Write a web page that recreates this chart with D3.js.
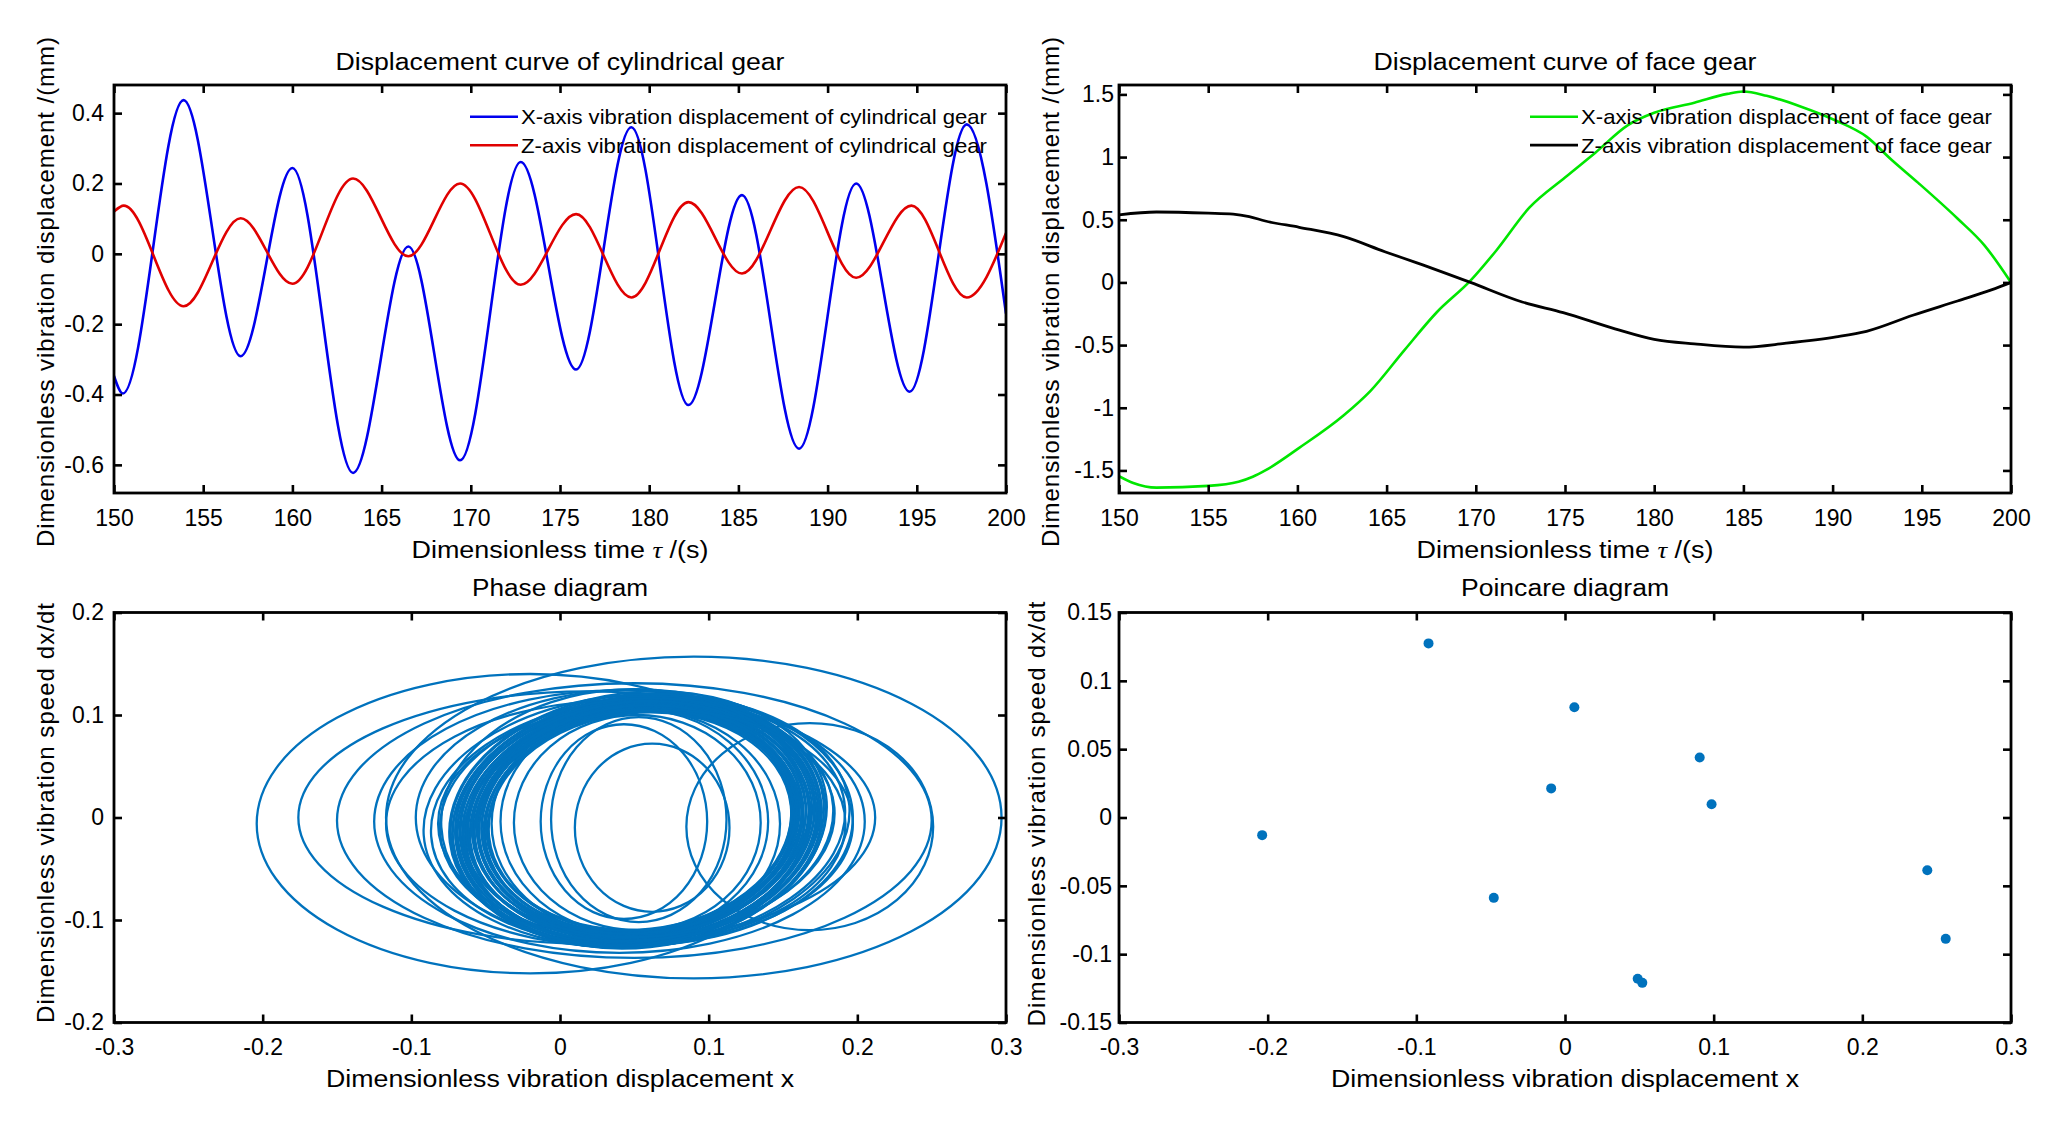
<!DOCTYPE html>
<html>
<head>
<meta charset="utf-8">
<script src="https://cdn.jsdelivr.net/npm/d3@7"></script>
<style>
  body { margin: 0; background: #fff; }
  text { font-family: "Liberation Sans", Arial, sans-serif; fill: #000; }
</style>
</head>
<body>
<svg id="fig" width="2068" height="1123"></svg>
<script>
// ---- data ----
// cylindrical gear, X axis (extrema)
const cylXTime = [150, 150.5, 153.9, 157.1, 160.0, 163.4, 166.5, 169.4, 172.8, 175.9, 179.0, 182.2, 185.2, 188.4, 191.6, 194.6, 197.8, 200];
const cylX = [-0.347, -0.397, 0.437, -0.291, 0.244, -0.623, 0.021, -0.587, 0.261, -0.329, 0.36, -0.43, 0.167, -0.554, 0.2, -0.392, 0.368, -0.17];
// cylindrical gear, Z axis
const cylZTime = [150, 150.55, 153.9, 157.1, 160.0, 163.4, 166.5, 169.4, 172.8, 175.9, 179.0, 182.2, 185.2, 188.4, 191.6, 194.7, 197.8, 200];
const cylZ = [0.12, 0.137, -0.149, 0.101, -0.085, 0.214, -0.007, 0.2, -0.088, 0.113, -0.124, 0.147, -0.056, 0.19, -0.068, 0.137, -0.124, 0.059];

// face gear, X axis
const faceXTime = [150, 150.8, 152.1, 155.0, 156.7, 157.5, 158.2, 160.1, 162.6, 164.1, 166.0, 167.8, 169.7, 171.15, 173.0, 175.0, 176.7, 178.55, 180.0, 182.25, 184.1, 185.0, 186.3, 188.2, 190.2, 191.9, 193.3, 194.8, 197.0, 198.5, 200];
const faceX = [-1.546, -1.60, -1.637, -1.623, -1.59, -1.55, -1.50, -1.32, -1.06, -0.865, -0.54, -0.24, 0.014, 0.255, 0.596, 0.837, 1.035, 1.257, 1.353, 1.433, 1.504, 1.523, 1.489, 1.404, 1.29, 1.163, 0.979, 0.794, 0.51, 0.298, 0.0];
// face gear, Z axis
const faceZTime = [150, 152.1, 155.0, 156.4, 157.3, 158.2, 160.1, 162.6, 164.9, 166.7, 169.7, 172.6, 174.9, 177.8, 180.0, 182.25, 185.0, 187.4, 190.2, 191.9, 194.5, 197.0, 198.9, 200];
const faceZ = [0.539, 0.562, 0.553, 0.545, 0.525, 0.49, 0.44, 0.365, 0.245, 0.156, 0.0, -0.156, -0.241, -0.37, -0.454, -0.49, -0.516, -0.485, -0.435, -0.39, -0.262, -0.148, -0.06, 0.0];

// phase diagram: loops as ellipses (centre x, centre v, half width, half height, tilt in degrees)
const phaseCx = [-0.020, 0.090, 0.050, 0.018, 0.168, 0.040, 0.040, 0.050, 0.055,
                 0.043, 0.053, 0.052, 0.050, 0.051, 0.062,
                 0.0525, 0.0525, 0.0525, 0.052, 0.052, 0.052, 0.052, 0.0515, 0.0515, 0.052, 0.0515, 0.052, 0.052, 0.0525, 0.053, 0.0535,
                 0.0525, 0.0520, 0.0520, 0.0518, 0.0520, 0.0515, 0.0520, 0.0518, 0.0522, 0.0525, 0.0525, 0.0528, 0.0530, 0.0532, 0.0535, 0.0538,
                 0.0525, 0.0515, 0.0515, 0.044, 0.060];
const phaseCy = [-0.006, 0.000, -0.003, 0.000, -0.009, -0.004, -0.006, 0.000, -0.006,
                 -0.004, -0.002, -0.005, -0.004, -0.006, -0.010,
                 -0.002, -0.004, -0.003, -0.005, -0.002, -0.004, -0.006, -0.003, -0.005, -0.002, -0.004, -0.003, -0.005, -0.002, -0.004, -0.003,
                 -0.003, -0.005, -0.002, -0.004, -0.003, -0.005, -0.002, -0.004, -0.003, -0.005, -0.002, -0.004, -0.003, -0.005, -0.002, -0.004,
                 -0.004, -0.002, -0.003, 0.000, -0.006];
const phaseRx = [0.184, 0.207, 0.200, 0.194, 0.083, 0.165, 0.157, 0.147, 0.137,
                 0.056, 0.059, 0.083, 0.090, 0.097, 0.052,
                 0.1275, 0.1255, 0.1235, 0.122, 0.120, 0.118, 0.116, 0.1145, 0.1125, 0.111, 0.1095, 0.108, 0.107, 0.1055, 0.104, 0.1025,
                 0.1265, 0.1245, 0.1228, 0.1210, 0.1192, 0.1175, 0.1155, 0.1138, 0.1118, 0.1102, 0.1088, 0.1075, 0.1062, 0.1048, 0.1035, 0.1020,
                 0.1395, 0.1325, 0.1435, 0.124, 0.125];
const phaseRy = [0.146, 0.157, 0.134, 0.123, 0.101, 0.128, 0.120, 0.125, 0.115,
                 0.095, 0.100, 0.105, 0.110, 0.112, 0.082,
                 0.124, 0.122, 0.121, 0.119, 0.118, 0.117, 0.116, 0.115, 0.114, 0.113, 0.112, 0.111, 0.110, 0.109, 0.108, 0.107,
                 0.123, 0.122, 0.120, 0.119, 0.118, 0.116, 0.115, 0.114, 0.113, 0.112, 0.111, 0.110, 0.109, 0.108, 0.107, 0.106,
                 0.120, 0.118, 0.123, 0.125, 0.110];
const phaseTilt = [0, 0, 0, 0, 0, 0, 0, 0, 0,
                   0, 0, 0, 0, 0, 0,
                   -7, -7, -7, -7, -7, -7, -7, -7, -7, -7, -7, -7, -7, -7, -7, -7,
                   -6, -6, -6, -6, -6, -6, -6, -6, -6, -6, -6, -6, -6, -6, -6, -6,
                   -4, -4, -4, -3, -5];

// Poincare section points
const poincareX = [-0.0918, 0.0063, 0.0906, -0.0093, 0.0986, -0.2037, 0.2437, -0.0479, 0.2561, 0.0489, 0.052];
const poincareY = [0.1274, 0.0807, 0.0439, 0.0213, 0.0097, -0.0129, -0.0386, -0.0588, -0.0888, -0.118, -0.121];

// ticks
const timeTicks = d3.range(150, 201, 5);
const cylTicks = [-0.6, -0.4, -0.2, 0, 0.2, 0.4];
const faceTicks = [-1.5, -1, -0.5, 0, 0.5, 1, 1.5];
const dispTicks = [-0.3, -0.2, -0.1, 0, 0.1, 0.2, 0.3];
const phaseTicks = [-0.2, -0.1, 0, 0.1, 0.2];
const poincareTicks = [-0.15, -0.1, -0.05, 0, 0.05, 0.1, 0.15];

// ---- drawing ----
const svg = d3.select('#fig');
const FONT = '"Liberation Sans", Arial, sans-serif';
const fmt = d => String(+d.toFixed(2));
let clipId = 0;

function panel(cfg) {
  const x = d3.scaleLinear().domain(cfg.xDomain).range([cfg.x0, cfg.x1]);
  const y = d3.scaleLinear().domain(cfg.yDomain).range([cfg.y1, cfg.y0]);
  const id = 'clip' + (clipId++);
  svg.append('clipPath').attr('id', id).append('rect')
    .attr('x', cfg.x0).attr('y', cfg.y0)
    .attr('width', cfg.x1 - cfg.x0).attr('height', cfg.y1 - cfg.y0);
  const plot = svg.append('g').attr('clip-path', `url(#${id})`);
  return { x, y, plot, cfg };
}

function axes(p) {
  const c = p.cfg;
  const g = svg.append('g');
  const style = sel => {
    sel.select('.domain').remove();
    sel.attr('font-family', FONT).attr('font-size', 23);
    sel.selectAll('.tick line').attr('stroke', '#000').attr('stroke-width', 2.6);
    sel.selectAll('.tick text').attr('fill', '#000');
  };
  g.append('g').attr('transform', `translate(0,${c.y1})`)
    .call(d3.axisBottom(p.x).tickValues(c.xTicks).tickSize(-8).tickPadding(c.padB).tickFormat(fmt)).call(style);
  g.append('g').attr('transform', `translate(0,${c.y0})`)
    .call(d3.axisTop(p.x).tickValues(c.xTicks).tickSize(-8).tickFormat('')).call(style);
  g.append('g').attr('transform', `translate(${c.x0},0)`)
    .call(d3.axisLeft(p.y).tickValues(c.yTicks).tickSize(-8).tickPadding(c.padL).tickFormat(fmt)).call(style);
  g.append('g').attr('transform', `translate(${c.x1},0)`)
    .call(d3.axisRight(p.y).tickValues(c.yTicks).tickSize(-8).tickFormat('')).call(style);
  g.append('rect')
    .attr('x', c.x0).attr('y', c.y0)
    .attr('width', c.x1 - c.x0).attr('height', c.y1 - c.y0)
    .attr('fill', 'none').attr('stroke', '#000').attr('stroke-width', 2.8);

  svg.append('text').attr('x', (c.x0 + c.x1) / 2).attr('y', c.titleY)
    .attr('text-anchor', 'middle').attr('font-size', 23)
    .attr('textLength', c.titleLen).attr('lengthAdjust', 'spacingAndGlyphs')
    .text(c.title);

  const xl = svg.append('text').attr('x', (c.x0 + c.x1) / 2).attr('y', c.xLabelY)
    .attr('text-anchor', 'middle').attr('font-size', 23)
    .attr('textLength', c.xLabelLen).attr('lengthAdjust', 'spacingAndGlyphs');
  if (c.tau) {
    xl.append('tspan').text('Dimensionless time ');
    xl.append('tspan').attr('font-family', '"Liberation Serif", serif').attr('font-style', 'italic').text('τ');
    xl.append('tspan').text(' /(s)');
  } else {
    xl.text(c.xLabel);
  }

  svg.append('text')
    .attr('transform', `translate(${c.yLabelX},${c.yLabelMid}) rotate(-90)`)
    .attr('text-anchor', 'middle').attr('font-size', 24)
    .attr('textLength', c.yLabelLen).attr('lengthAdjust', 'spacing')
    .text(c.yLabel);
}

function legend(entries, lx, ly, textLen) {
  entries.forEach((e, i) => {
    const yy = ly + i * 28.5;
    svg.append('line').attr('x1', lx).attr('x2', lx + 48).attr('y1', yy).attr('y2', yy)
      .attr('stroke', e.color).attr('stroke-width', e.width);
    svg.append('text').attr('x', lx + 51).attr('y', yy + 7.5).attr('font-size', 21)
      .attr('textLength', textLen[i]).attr('lengthAdjust', 'spacingAndGlyphs')
      .text(e.label);
  });
}

function drawSeries(p, xs, ys, color, width) {
  const line = d3.line().x(d => p.x(d[0])).y(d => p.y(d[1])).curve(d3.curveMonotoneX);
  p.plot.append('path').datum(xs.map((t, i) => [t, ys[i]]))
    .attr('d', line).attr('fill', 'none').attr('stroke', color).attr('stroke-width', width);
}

// top left: cylindrical gear
const tl = panel({ x0: 114, x1: 1006, y0: 85, y1: 493, xDomain: [150, 200], yDomain: [-0.68, 0.48] });
drawSeries(tl, cylXTime, cylX, '#0000ee', 2.6);
drawSeries(tl, cylZTime, cylZ, '#e00000', 2.6);
Object.assign(tl.cfg, {
  xTicks: timeTicks, yTicks: cylTicks, padB: 17, padL: 10,
  title: 'Displacement curve of cylindrical gear', titleY: 70, titleLen: 449,
  tau: true, xLabelY: 558, xLabelLen: 297,
  yLabel: 'Dimensionless vibration displacement /(mm)', yLabelX: 54, yLabelMid: 292, yLabelLen: 510
});
axes(tl);
legend([
  { label: 'X-axis vibration displacement of cylindrical gear', color: '#0000ee', width: 2.6 },
  { label: 'Z-axis vibration displacement of cylindrical gear', color: '#e00000', width: 2.6 }
], 470, 116.7, [466, 466]);

// top right: face gear
const tr = panel({ x0: 1119, x1: 2011, y0: 85, y1: 493, xDomain: [150, 200], yDomain: [-1.68, 1.575] });
drawSeries(tr, faceXTime, faceX, '#00e600', 2.6);
drawSeries(tr, faceZTime, faceZ, '#000000', 2.8);
Object.assign(tr.cfg, {
  xTicks: timeTicks, yTicks: faceTicks, padB: 17, padL: 5,
  title: 'Displacement curve of face gear', titleY: 70, titleLen: 383,
  tau: true, xLabelY: 558, xLabelLen: 297,
  yLabel: 'Dimensionless vibration displacement /(mm)', yLabelX: 1059, yLabelMid: 292, yLabelLen: 510
});
axes(tr);
legend([
  { label: 'X-axis vibration displacement of face gear', color: '#00e600', width: 2.6 },
  { label: 'Z-axis vibration displacement of face gear', color: '#000000', width: 2.8 }
], 1530, 116.7, [411, 411]);

// bottom left: phase diagram
const bl = panel({ x0: 114, x1: 1006, y0: 612.5, y1: 1022.5, xDomain: [-0.3, 0.3], yDomain: [-0.2, 0.2] });
const loops = phaseCx.map((cx, i) => ({ cx, cy: phaseCy[i], rx: phaseRx[i], ry: phaseRy[i], tilt: phaseTilt[i] }));
bl.plot.selectAll('ellipse').data(loops).join('ellipse')
  .attr('cx', d => bl.x(d.cx)).attr('cy', d => bl.y(d.cy))
  .attr('rx', d => bl.x(d.rx) - bl.x(0)).attr('ry', d => bl.y(0) - bl.y(d.ry))
  .attr('transform', d => `rotate(${d.tilt},${bl.x(d.cx)},${bl.y(d.cy)})`)
  .attr('fill', 'none').attr('stroke', '#0072bd').attr('stroke-width', 2.3);
Object.assign(bl.cfg, {
  xTicks: dispTicks, yTicks: phaseTicks, padB: 16, padL: 10,
  title: 'Phase diagram', titleY: 596, titleLen: 176,
  xLabel: 'Dimensionless vibration displacement x', xLabelY: 1087, xLabelLen: 468,
  yLabel: 'Dimensionless vibration speed dx/dt', yLabelX: 54, yLabelMid: 813, yLabelLen: 420
});
axes(bl);

// bottom right: Poincare diagram
const br = panel({ x0: 1119, x1: 2011, y0: 612.5, y1: 1022.5, xDomain: [-0.3, 0.3], yDomain: [-0.15, 0.15] });
br.plot.selectAll('circle').data(poincareX.map((v, i) => [v, poincareY[i]])).join('circle')
  .attr('cx', d => br.x(d[0])).attr('cy', d => br.y(d[1])).attr('r', 5)
  .attr('fill', '#0072bd');
Object.assign(br.cfg, {
  xTicks: dispTicks, yTicks: poincareTicks, padB: 16, padL: 7,
  title: 'Poincare diagram', titleY: 596, titleLen: 208,
  xLabel: 'Dimensionless vibration displacement x', xLabelY: 1087, xLabelLen: 468,
  yLabel: 'Dimensionless vibration speed dx/dt', yLabelX: 1045, yLabelMid: 814, yLabelLen: 425
});
axes(br);
</script>
</body>
</html>
